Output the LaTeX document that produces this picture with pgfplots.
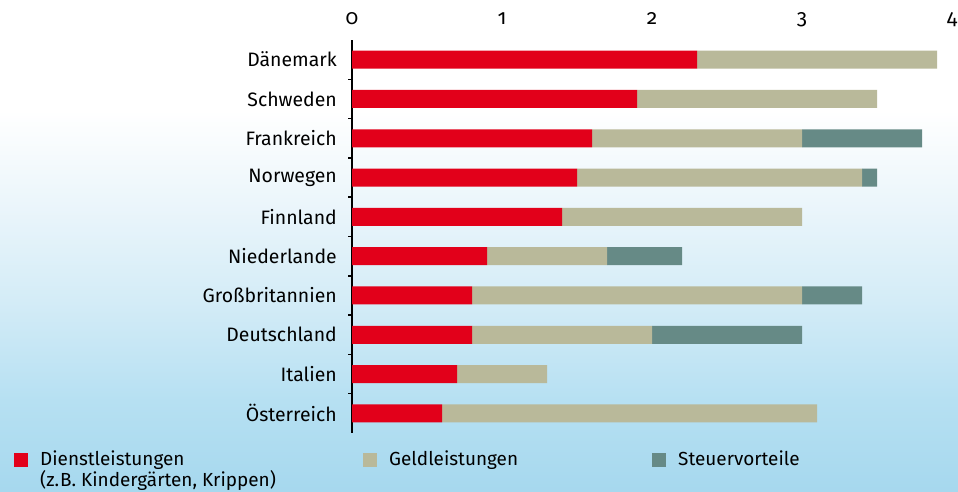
\documentclass[border=0pt]{standalone}
\usepackage{pgfplots}
\pgfplotsset{compat=1.18}
\usepackage{fontspec}
\setmainfont{Fira Sans}
\newfontfamily\osf{Fira Sans}[Numbers=OldStyle]
\definecolor{dienst}{RGB}{226,0,26}
\definecolor{geld}{RGB}{185,185,154}
\definecolor{steuer}{RGB}{102,138,134}
\definecolor{bgA}{RGB}{166,216,238}
\definecolor{bgB}{RGB}{182,224,242}
\definecolor{bgC}{RGB}{212,236,247}
\definecolor{bgD}{RGB}{236,246,251}
\pgfdeclareverticalshading{bgshade}{100bp}{color(0bp)=(bgA); color(25bp)=(bgA); color(34.3bp)=(bgB); color(44.5bp)=(bgC); color(54.7bp)=(bgD); color(63.8bp)=(white); color(100bp)=(white)}
\pgfplotstableread{
y dienst geld steuer
0 2.3 1.6 0.0
1 1.9 1.6 0.0
2 1.6 1.4 0.8
3 1.5 1.9 0.1
4 1.4 1.6 0.0
5 0.9 0.8 0.5
6 0.8 2.2 0.4
7 0.8 1.2 1.0
8 0.7 0.6 0.0
9 0.6 2.5 0.0
}\datatable
\begin{document}
\begin{tikzpicture}
\shade[shading=bgshade] (0,0) rectangle (958bp,492bp);
\begin{axis}[
  at={(352bp,59bp)}, anchor=south west,
  scale only axis, width=600bp, height=393bp,
  xbar stacked, bar width=18bp,
  xmin=0, xmax=4, ymin=-0.5, ymax=9.5, y dir=reverse,
  axis x line*=top, axis y line*=left,
  axis line style={-, black, line width=1.5bp},
  x axis line style={draw=none},
  font=\fontsize{19.5}{22}\selectfont,
  xtick={0,1,2,3,4},
  /pgf/number format/assume math mode=true,
  xticklabel style={font=\fontsize{21}{22}\selectfont\osf, anchor=base, inner sep=0pt},
  xticklabel shift=16bp,
  ytick={0,...,9},
  yticklabels={Dänemark,Schweden,Frankreich,Norwegen,Finnland,Niederlande,Großbritannien,Deutschland,Italien,Österreich},
  yticklabel style={anchor=east, inner sep=0pt},
  yticklabel shift=15bp,
  major tick length=0pt,
  minor ytick={0.5,1.5,...,8.5},
  minor y tick style={black, line width=1.5bp},
  minor tick length=4bp,
  tick align=outside,
  legend columns=3,
  legend cell align=left,
  legend style={at={(axis description cs:-0.5633,-0.0458)}, anchor=north west, draw=none, fill=none, inner sep=0pt,
    font=\fontsize{19}{19}\selectfont,
    nodes={inner sep=0pt, anchor=base west},
    /tikz/every odd column/.append style={column sep=12bp}},
  legend image code/.code={\fill[#1,draw=none] (0bp,-1bp) rectangle (14bp,13bp);},
]
\addplot[fill=dienst, draw=none] table[x=dienst, y=y] {\datatable};
\addlegendentry{\makebox[323bp][l]{\rlap{\smash{\raisebox{-20.5bp}{(z.\kern1bp B. Kindergärten, Krippen)}}}Dienstleistungen}}
\addplot[fill=geld, draw=none] table[x=geld, y=y] {\datatable};
\addlegendentry{\makebox[263bp][l]{Geldleistungen}}
\addplot[fill=steuer, draw=none] table[x=steuer, y=y] {\datatable};
\addlegendentry{Steuervorteile}
\end{axis}
\pgfresetboundingbox
\useasboundingbox (0,0) rectangle (958bp,492bp);
\end{tikzpicture}
\end{document}
